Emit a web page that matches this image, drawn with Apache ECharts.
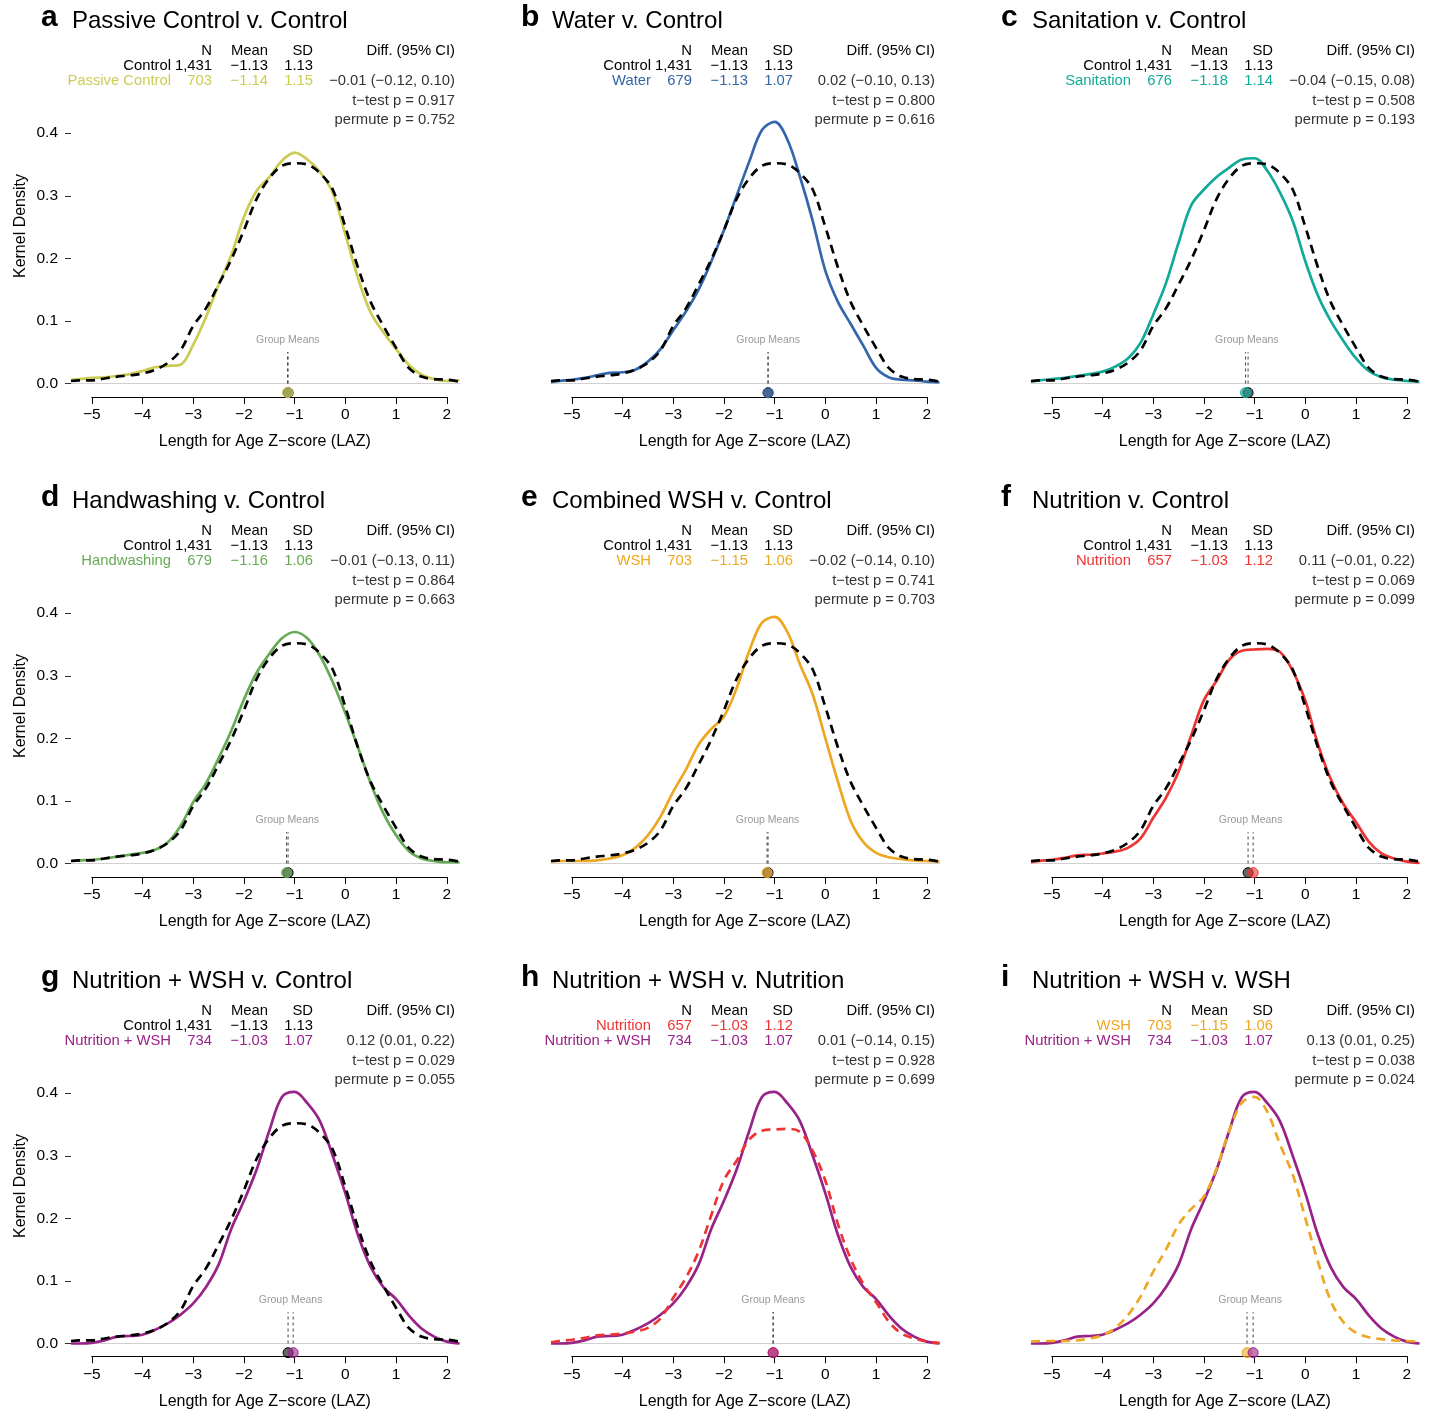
<!DOCTYPE html>
<html>
<head>
<meta charset="utf-8">
<title>LAZ kernel densities by arm</title>
<script src="https://cdn.jsdelivr.net/npm/echarts@6/dist/echarts.min.js"></script>
<style>
html, body { margin: 0; padding: 0; background: #fff; }
#main { width: 1434px; height: 1410px; }
</style>
</head>
<body>
<div id="main"></div>
<script>
// LAZ values where the density curves were read
var xGrid = [-5.41, -5.25, -5, -4.75, -4.5, -4.25, -4, -3.75, -3.5, -3.25, -3, -2.75, -2.5, -2.25, -2, -1.75,
             -1.5, -1.25, -1, -0.75, -0.5, -0.25, 0, 0.25, 0.5, 0.75, 1, 1.25, 1.5, 1.75, 2, 2.25];

// kernel density of each arm at xGrid
var densControl = [0.004, 0.005, 0.005, 0.008, 0.011, 0.013, 0.016, 0.022, 0.033, 0.053, 0.092, 0.12, 0.158, 0.198, 0.245, 0.295,
                   0.328, 0.348, 0.352, 0.35, 0.336, 0.31, 0.25, 0.185, 0.13, 0.092, 0.057, 0.025, 0.011, 0.007, 0.006, 0.003];
var densPassive = [0.006, 0.007, 0.009, 0.01, 0.012, 0.015, 0.02, 0.026, 0.028, 0.03, 0.062, 0.106, 0.158, 0.205, 0.266, 0.308,
                   0.33, 0.356, 0.369, 0.358, 0.338, 0.305, 0.238, 0.168, 0.113, 0.082, 0.055, 0.03, 0.014, 0.007, 0.004, 0.005];
var densWater = [0.002, 0.004, 0.006, 0.009, 0.013, 0.017, 0.018, 0.022, 0.035, 0.055, 0.085, 0.115, 0.15, 0.195, 0.245, 0.3,
                 0.355, 0.405, 0.418, 0.39, 0.33, 0.26, 0.18, 0.13, 0.095, 0.06, 0.025, 0.01, 0.006, 0.005, 0.003, 0.002];
var densSanitation = [0.003, 0.005, 0.007, 0.009, 0.012, 0.015, 0.019, 0.027, 0.04, 0.065, 0.11, 0.16, 0.225, 0.285, 0.31, 0.33,
                      0.345, 0.358, 0.36, 0.34, 0.305, 0.26, 0.195, 0.14, 0.1, 0.068, 0.04, 0.02, 0.01, 0.006, 0.004, 0.003];
var densHandwashing = [0.004, 0.005, 0.006, 0.008, 0.011, 0.014, 0.017, 0.022, 0.034, 0.06, 0.098, 0.128, 0.168, 0.212, 0.262, 0.305,
                       0.335, 0.36, 0.37, 0.36, 0.332, 0.29, 0.24, 0.185, 0.128, 0.08, 0.045, 0.02, 0.008, 0.004, 0.002, 0.002];
var densWSH = [0.003, 0.004, 0.004, 0.004, 0.005, 0.008, 0.013, 0.025, 0.045, 0.075, 0.115, 0.15, 0.19, 0.215, 0.235, 0.28,
               0.34, 0.385, 0.394, 0.37, 0.318, 0.27, 0.2, 0.13, 0.068, 0.034, 0.017, 0.01, 0.007, 0.005, 0.004, 0.003];
var densNutrition = [0.002, 0.004, 0.006, 0.009, 0.013, 0.014, 0.016, 0.019, 0.025, 0.04, 0.073, 0.105, 0.147, 0.205, 0.261, 0.292,
                     0.326, 0.34, 0.342, 0.343, 0.338, 0.308, 0.26, 0.19, 0.135, 0.095, 0.066, 0.035, 0.016, 0.008, 0.003, 0.001];
var densNutWSH = [0, 0, 0.001, 0.005, 0.011, 0.012, 0.014, 0.022, 0.032, 0.046, 0.064, 0.09, 0.126, 0.183, 0.228, 0.278,
                  0.34, 0.394, 0.402, 0.384, 0.355, 0.3, 0.24, 0.173, 0.122, 0.09, 0.071, 0.045, 0.024, 0.011, 0.003, 0];

// arm summaries
var groupNames = ['Control', 'Passive Control', 'Water', 'Sanitation', 'Handwashing', 'WSH', 'Nutrition', 'Nutrition + WSH'];
var groupN = ['1,431', '703', '679', '676', '679', '703', '657', '734'];
var groupMean = [-1.13, -1.14, -1.13, -1.18, -1.16, -1.15, -1.03, -1.03];
var groupSD = [1.13, 1.15, 1.07, 1.14, 1.06, 1.06, 1.12, 1.07];
var groupColor = ['#000000', '#CCCC55', '#3366AA', '#11AA99', '#66AA55', '#EEA722', '#EE3333', '#992288'];
var groupFill = ['rgba(0,0,0,0.6)', 'rgba(204,204,85,0.6)', 'rgba(51,102,170,0.6)', 'rgba(17,170,153,0.6)',
                 'rgba(102,170,85,0.6)', 'rgba(238,167,34,0.6)', 'rgba(238,51,51,0.6)', 'rgba(153,34,136,0.6)'];
var groupDensity = [densControl, densPassive, densWater, densSanitation, densHandwashing, densWSH, densNutrition, densNutWSH];

// panels: reference arm (dashed) and comparison arm (solid)
var panelLetter = ['a', 'b', 'c', 'd', 'e', 'f', 'g', 'h', 'i'];
var panelTitle = ['Passive Control v. Control', 'Water v. Control', 'Sanitation v. Control',
                  'Handwashing v. Control', 'Combined WSH v. Control', 'Nutrition v. Control',
                  'Nutrition + WSH v. Control', 'Nutrition + WSH v. Nutrition', 'Nutrition + WSH v. WSH'];
var panelRef = [0, 0, 0, 0, 0, 0, 0, 6, 5];
var panelTrt = [1, 2, 3, 4, 5, 6, 7, 7, 7];
var panelDiff = ['\u22120.01 (\u22120.12, 0.10)', '0.02 (\u22120.10, 0.13)', '\u22120.04 (\u22120.15, 0.08)',
                 '\u22120.01 (\u22120.13, 0.11)', '\u22120.02 (\u22120.14, 0.10)', '0.11 (\u22120.01, 0.22)',
                 '0.12 (0.01, 0.22)', '0.01 (\u22120.14, 0.15)', '0.13 (0.01, 0.25)'];
var panelTTest = ['0.917', '0.800', '0.508', '0.864', '0.741', '0.069', '0.029', '0.928', '0.038'];
var panelPermute = ['0.752', '0.616', '0.193', '0.663', '0.703', '0.099', '0.055', '0.699', '0.024'];

var yTicks = [0, 0.1, 0.2, 0.3, 0.4];

// layout
var PANEL = 480;
var X_MIN = -5.41, X_MAX = 2.26;
var Y_MIN = -0.0216, Y_MAX = 0.525;
var PLOT_L = 71, PLOT_W = 389, PLOT_T = 55, PLOT_H = 342;
var pxPerX = PLOT_W / (X_MAX - X_MIN);
var FONT = 'Liberation Sans, Arial, Helvetica, sans-serif';
var DOT_Y = -0.0147, MEANLINE_TOP = 0.05, MEANLABEL_Y = 0.07;

function minus(s) { return String(s).replace('-', '\u2212'); }

var myChart = echarts.init(document.getElementById('main'));

var grids = [], xAxes = [], yAxes = [], series = [], graphics = [];

function txt(x, y, s, color, align, font) {
    graphics.push({
        type: 'text', x: x, y: y, silent: true,
        style: {
            text: s, fill: color, font: font || ('14.8px ' + FONT),
            align: align, textAlign: align, verticalAlign: 'middle', textVerticalAlign: 'middle'
        }
    });
}

for (var p = 0; p < 9; p++) {
    var col = p % 3, row = Math.floor(p / 3);
    var ox = col * PANEL, oy = row * PANEL;
    var ref = panelRef[p], trt = panelTrt[p];
    var gi = grids.length;

    // plot region, its x axis is only the grey zero line
    grids.push({ left: ox + PLOT_L, top: oy + PLOT_T, width: PLOT_W, height: PLOT_H });
    // thin strip holding the black axis from -5 to 2
    grids.push({ left: ox + PLOT_L + (-5 - X_MIN) * pxPerX, top: oy + PLOT_T + PLOT_H - 1, width: 7 * pxPerX, height: 1 });

    xAxes.push({
        gridIndex: gi, type: 'value', min: X_MIN, max: X_MAX,
        axisLine: { show: true, onZero: true, lineStyle: { color: '#d0d0d0', width: 1 } },
        axisTick: { show: false }, axisLabel: { show: false }, splitLine: { show: false }
    });
    xAxes.push({
        gridIndex: gi + 1, type: 'value', min: -5, max: 2, interval: 1, position: 'bottom',
        axisLine: { show: true, onZero: false, lineStyle: { color: '#000', width: 1 } },
        axisTick: { show: true, length: 7, lineStyle: { color: '#000' } },
        axisLabel: { fontSize: 15.5, color: '#000', fontFamily: FONT, margin: 10, formatter: function (v) { return minus(v); } },
        splitLine: { show: false },
        name: 'Length for Age Z\u2212score (LAZ)', nameLocation: 'middle', nameGap: 37,
        nameTextStyle: { fontSize: 16, color: '#000', fontFamily: FONT, padding: [0, 9, 0, 0] }
    });
    yAxes.push({
        gridIndex: gi, type: 'value', min: Y_MIN, max: Y_MAX, show: col === 0,
        axisLine: { show: false, onZero: false },
        axisTick: { show: true, length: 6, customValues: yTicks, lineStyle: { color: '#333' } },
        axisLabel: { customValues: yTicks, fontSize: 15.5, color: '#000', fontFamily: FONT, margin: 13,
                     formatter: function (v) { return v.toFixed(1); } },
        splitLine: { show: false },
        name: 'Kernel Density', nameLocation: 'middle', nameGap: 42,
        nameTextStyle: { fontSize: 16, color: '#000', fontFamily: FONT }
    });
    yAxes.push({ gridIndex: gi + 1, type: 'value', min: 0, max: 1, show: false });

    var xi = gi, yi = gi;

    // comparison arm, solid
    series.push({
        type: 'line', xAxisIndex: xi, yAxisIndex: yi, smooth: 0.35, symbol: 'none', silent: true,
        lineStyle: { color: groupColor[trt], width: 2.7 },
        data: xGrid.map(function (x, i) { return [x, groupDensity[trt][i]]; })
    });
    // reference arm, dashed
    series.push({
        type: 'line', xAxisIndex: xi, yAxisIndex: yi, smooth: 0.35, symbol: 'none', silent: true,
        lineStyle: { color: groupColor[ref], width: 2.7, type: [9, 6] },
        data: xGrid.map(function (x, i) { return [x, groupDensity[ref][i]]; })
    });
    // dashed lines at the group means
    [ref, trt].forEach(function (g) {
        series.push({
            type: 'line', xAxisIndex: xi, yAxisIndex: yi, symbol: 'none', silent: true,
            lineStyle: { color: '#444', width: 1, type: [3, 3] },
            data: [[groupMean[g], 0], [groupMean[g], MEANLINE_TOP]]
        });
    });
    // mean dots
    [ref, trt].forEach(function (g) {
        series.push({
            type: 'scatter', xAxisIndex: xi, yAxisIndex: yi, symbolSize: 10, silent: true,
            itemStyle: { color: groupFill[g], borderColor: groupColor[g], borderWidth: 1, opacity: 1 },
            data: [[groupMean[g], DOT_Y]]
        });
    });
    series.push({
        type: 'scatter', xAxisIndex: xi, yAxisIndex: yi, symbolSize: 0, silent: true,
        label: { show: true, position: 'inside', formatter: 'Group Means', fontSize: 10.5, color: '#808080', fontFamily: FONT },
        data: [[(groupMean[ref] + groupMean[trt]) / 2, MEANLABEL_Y]]
    });

    // header: letter, title and summary table
    txt(ox + 41, oy + 18, panelLetter[p], '#000', 'left', 'bold 30px ' + FONT);
    txt(ox + 72, oy + 21.5, panelTitle[p], '#000', 'left', '24px ' + FONT);
    txt(ox + 212, oy + 51, 'N', '#000', 'right');
    txt(ox + 268, oy + 51, 'Mean', '#000', 'right');
    txt(ox + 313, oy + 51, 'SD', '#000', 'right');
    txt(ox + 455, oy + 51, 'Diff. (95% CI)', '#000', 'right');
    [[ref, 66], [trt, 81]].forEach(function (r) {
        var g = r[0], y = oy + r[1], c = groupColor[g];
        txt(ox + 171, y, groupNames[g], c, 'right');
        txt(ox + 212, y, groupN[g], c, 'right');
        txt(ox + 268, y, minus(groupMean[g].toFixed(2)), c, 'right');
        txt(ox + 313, y, groupSD[g].toFixed(2), c, 'right');
    });
    txt(ox + 455, oy + 81, panelDiff[p], '#333', 'right');
    txt(ox + 455, oy + 100.5, 't\u2212test p = ' + panelTTest[p], '#333', 'right');
    txt(ox + 455, oy + 119.5, 'permute p = ' + panelPermute[p], '#333', 'right');
}

var option = {
    backgroundColor: '#fff',
    animation: false,
    textStyle: { fontFamily: FONT },
    grid: grids,
    xAxis: xAxes,
    yAxis: yAxes,
    series: series,
    graphic: graphics
};

myChart.setOption(option);
</script>
</body>
</html>
